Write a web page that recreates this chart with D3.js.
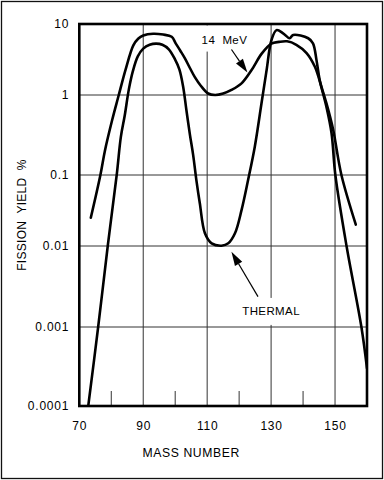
<!DOCTYPE html>
<html>
<head>
<meta charset="utf-8">
<script src="https://cdn.jsdelivr.net/npm/d3@7/dist/d3.min.js"></script>
<style>
  html, body { margin: 0; padding: 0; background: #fff; }
  svg { display: block; }
  text { font-family: "Liberation Sans", Arial, Helvetica, sans-serif; fill: #000; }
</style>
</head>
<body>
<div id="chart"></div>
<script>
// ---- data ----
const xDomain = [70, 160];
const xMajorTicks = [70, 90, 110, 130, 150];
const xGridLines = [90, 110, 130, 150];
const xMinorTicks = [80, 100, 120, 140];
const yTickValues = [0.0001, 0.001, 0.01, 0.1, 1, 10];
const yTickLabels = ["0.0001", "0.001", "0.01", "0.1", "1", "10"];
const yGridLines = [0.001, 0.01, 0.1, 1];

const thermalMass = [72.8, 75.9, 78.9, 81.7, 83.0, 84.2, 85.5, 86.8, 88.3, 90.0, 92.0, 94.0, 96.0, 98.0, 99.9, 101.3, 102.5, 103.5, 104.6, 105.6, 106.7, 107.7, 109.3, 111.4, 114.5, 116.6, 118.7, 120.75, 122.8, 124.9, 127.0, 128.6, 130.1, 131.7, 133.75, 135.8, 136.9, 141.6, 143.1, 144.2, 145.2, 147.3, 148.9, 150.1, 153.6, 158.25, 160];
const thermalYield = [0.0001, 0.001, 0.01, 0.1, 0.3, 0.55, 1.2, 2.2, 3.5, 4.5, 5.1, 5.3, 5.1, 4.4, 3.2, 2.3, 1.3, 0.65, 0.32, 0.18, 0.08, 0.04, 0.0151, 0.0109, 0.0101, 0.0109, 0.0151, 0.032, 0.085, 0.226, 0.787, 2.25, 5.9, 8.2, 7.4, 6.3, 7.0, 6.3, 5.35, 3.1, 1.63, 0.714, 0.335, 0.1, 0.01, 0.001, 0.0003];

const mev14Mass = [73.6, 76.6, 78.0, 80.3, 82.2, 84.5, 86.9, 88.4, 90.0, 93.1, 96.25, 98.9, 100.2, 101.6, 103.0, 104.6, 106.1, 108.0, 110.3, 112.5, 115.0, 117.6, 120.75, 123.9, 127.0, 130.1, 132.5, 135.0, 137.9, 141.1, 143.7, 145.75, 147.3, 149.4, 152.0, 156.5];
const mev14Yield = [0.025, 0.1, 0.2, 0.49, 0.95, 2.3, 5.0, 6.2, 6.9, 7.3, 7.1, 6.6, 5.3, 4.2, 3.3, 2.4, 1.8, 1.35, 1.05, 1.0, 1.05, 1.18, 1.46, 2.25, 3.8, 5.3, 5.6, 5.7, 5.1, 3.9, 2.5, 1.3, 0.79, 0.37, 0.1, 0.02];

const xTitle = "MASS NUMBER";
const yTitle = "FISSION  YIELD  %";
const mevLabel = { text: "14  MeV", mass: 115.4, value: 5.3 };
const mevArrow = { from: [117.6, 4.37], to: [122.6, 2.07] };
const thermalLabel = { text: "THERMAL", mass: 130.0, value: 0.00141 };
const thermalArrow = { from: [125.9, 0.00237], to: [117.6, 0.0085] };

// ---- layout ----
const W = 384, H = 480;
const plot = { left: 79.3, right: 367, top: 24, bottom: 406 };

const svg = d3.select("#chart").append("svg")
  .attr("width", W).attr("height", H);

svg.append("rect").attr("x", 0).attr("y", 0).attr("width", W).attr("height", H).attr("fill", "#fff");
svg.append("rect").attr("x", 1.5).attr("y", 1.5).attr("width", W - 3).attr("height", H - 3)
  .attr("fill", "none").attr("stroke", "#111").attr("stroke-width", 1.3);

const x = d3.scaleLinear().domain(xDomain).range([plot.left, plot.right]);
const y = d3.scaleLog()
  .domain([1e-4, 1e-3, 1e-2, 1e-1, 1, 10])
  .range([406, 327, 246, 175, 95, 24]);

// grid
const grid = svg.append("g");
grid.selectAll("line.vg").data(xGridLines).join("line")
  .attr("x1", d => x(d)).attr("x2", d => x(d))
  .attr("y1", plot.top).attr("y2", plot.bottom)
  .attr("stroke", "#333").attr("stroke-width", 1);
grid.selectAll("line.hg").data(yGridLines).join("line")
  .attr("y1", d => y(d)).attr("y2", d => y(d))
  .attr("x1", plot.left).attr("x2", plot.right)
  .attr("stroke", "#333").attr("stroke-width", 1);
grid.selectAll("line.mt").data(xMinorTicks).join("line")
  .attr("x1", d => x(d)).attr("x2", d => x(d))
  .attr("y1", plot.bottom).attr("y2", plot.bottom - 15)
  .attr("stroke", "#333").attr("stroke-width", 1);

// label backgrounds (white-outs)
const annot = svg.append("g");
function labelWithBg(lbl, padX, padTop, padBottom, extendToTop) {
  const t = annot.append("text")
    .attr("x", x(lbl.mass)).attr("y", y(lbl.value))
    .attr("text-anchor", "middle")
    .attr("font-size", 11.5)
    .attr("letter-spacing", 0.4)
    .style("white-space", "pre")
    .text(lbl.text);
  const b = t.node().getBBox();
  const top = extendToTop ? plot.top + 1.5 : b.y - padTop;
  annot.insert("rect", "text")
    .attr("x", b.x - padX).attr("y", top)
    .attr("width", b.width + 2 * padX)
    .attr("height", b.y + b.height + padBottom - top)
    .attr("fill", "#fff");
}
labelWithBg(mevLabel, 5, 6, 6, true);
labelWithBg(thermalLabel, 4, 7, 8, false);

// curves
const clip = svg.append("clipPath").attr("id", "clip").append("rect")
  .attr("x", plot.left).attr("y", plot.top)
  .attr("width", plot.right - plot.left).attr("height", plot.bottom - plot.top);

const line = d3.line()
  .x(d => x(d[0])).y(d => y(d[1]))
  .curve(d3.curveCatmullRom.alpha(0.5));

const thermal = thermalMass.map((m, i) => [m, thermalYield[i]]);
const mev14 = mev14Mass.map((m, i) => [m, mev14Yield[i]]);

const curves = svg.append("g").attr("clip-path", "url(#clip)");
[thermal, mev14].forEach(s => {
  curves.append("path").datum(s)
    .attr("d", line)
    .attr("fill", "none").attr("stroke", "#000")
    .attr("stroke-width", 2.6)
    .attr("stroke-linejoin", "round").attr("stroke-linecap", "round");
});

// arrows
function arrow(a) {
  const x0 = x(a.from[0]), y0 = y(a.from[1]);
  const x1 = x(a.to[0]), y1 = y(a.to[1]);
  const dx = x1 - x0, dy = y1 - y0, len = Math.hypot(dx, dy);
  const ux = dx / len, uy = dy / len;
  const hl = 14, hw = 4.2;
  const bx = x1 - ux * hl, by = y1 - uy * hl;
  annot.append("line")
    .attr("x1", x0).attr("y1", y0).attr("x2", bx).attr("y2", by)
    .attr("stroke", "#000").attr("stroke-width", 1.2);
  annot.append("path")
    .attr("d", `M${x1},${y1}L${bx - uy * hw},${by + ux * hw}L${bx + uy * hw},${by - ux * hw}Z`)
    .attr("fill", "#000");
}
arrow(mevArrow);
arrow(thermalArrow);

// frame
svg.append("rect")
  .attr("x", plot.left).attr("y", plot.top)
  .attr("width", plot.right - plot.left).attr("height", plot.bottom - plot.top)
  .attr("fill", "none").attr("stroke", "#000").attr("stroke-width", 2.6);

// axes (labels only)
const yAxis = d3.axisLeft(y).tickValues(yTickValues).tickSize(0).tickPadding(10)
  .tickFormat((d, i) => yTickLabels[i]);
const gy = svg.append("g").attr("transform", `translate(${plot.left},0)`).call(yAxis);
gy.select(".domain").remove();
gy.selectAll("text").attr("font-size", 12).attr("letter-spacing", 0.8)
  .attr("font-family", "'Liberation Sans', Arial, sans-serif").attr("fill", "#000");

const xAxis = d3.axisBottom(x).tickValues(xMajorTicks).tickSize(0).tickPadding(15)
  .tickFormat(d3.format("d"));
const gx = svg.append("g").attr("transform", `translate(0,${plot.bottom})`).call(xAxis);
gx.select(".domain").remove();
gx.selectAll("text").attr("font-size", 12).attr("letter-spacing", 0.8)
  .attr("font-family", "'Liberation Sans', Arial, sans-serif").attr("fill", "#000");

// titles
svg.append("text")
  .attr("x", x(105)).attr("y", 457)
  .attr("text-anchor", "middle").attr("font-size", 12.2).attr("letter-spacing", 0.6)
  .style("white-space", "pre")
  .text(xTitle);
svg.append("text")
  .attr("transform", "translate(25.5,215) rotate(-90)")
  .attr("text-anchor", "middle").attr("font-size", 12).attr("letter-spacing", 0.3)
  .style("white-space", "pre")
  .text(yTitle);
</script>
</body>
</html>
